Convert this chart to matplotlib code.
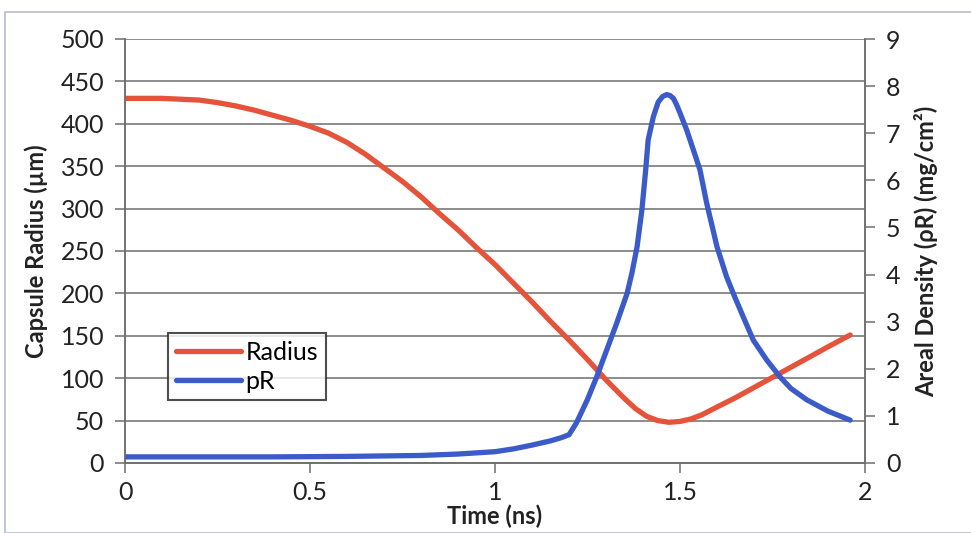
import matplotlib
matplotlib.use("Agg")
import matplotlib.pyplot as plt
from matplotlib.patches import Rectangle

plt.rcParams['font.family'] = ['Lato', 'DejaVu Sans']

# Radius curve (left axis, µm)
radius_t = [0, 0.1, 0.15, 0.2, 0.25, 0.3, 0.35, 0.4, 0.45, 0.5, 0.55, 0.6, 0.65, 0.7, 0.75,
            0.8, 0.85, 0.9, 0.95, 1.0, 1.05, 1.1, 1.15, 1.2, 1.25, 1.3, 1.35, 1.38, 1.41, 1.44,
            1.47, 1.5, 1.53, 1.56, 1.6, 1.65, 1.7, 1.75, 1.8, 1.85, 1.9, 1.96]
radius_v = [430, 430, 429, 428, 425, 421, 416, 410, 404, 397, 389, 378, 364, 348, 332,
            314, 294, 275, 254, 234, 212, 190, 167, 145, 122, 98, 76, 64, 55, 50,
            48, 49, 52, 57, 66, 77, 89, 101, 113, 125, 137, 151]

# Areal density curve (right axis, mg/cm^2)
pr_t = [0, 0.2, 0.4, 0.6, 0.8, 0.9, 1.0, 1.05, 1.1, 1.15, 1.18, 1.2, 1.22, 1.25, 1.275, 1.302,
        1.329, 1.357, 1.37, 1.384, 1.397, 1.407, 1.414, 1.428, 1.441, 1.453, 1.464, 1.473,
        1.482, 1.49, 1.5, 1.518, 1.536, 1.554, 1.572, 1.6, 1.626, 1.644, 1.671, 1.698,
        1.734, 1.77, 1.8, 1.843, 1.9, 1.96]
pr_v = [0.13, 0.13, 0.13, 0.14, 0.16, 0.19, 0.24, 0.3, 0.38, 0.47, 0.54, 0.6, 0.85, 1.35, 1.83, 2.4,
        2.97, 3.6, 4.03, 4.59, 5.37, 6.2, 6.86, 7.35, 7.66, 7.78, 7.82, 7.8,
        7.74, 7.62, 7.43, 7.07, 6.65, 6.22, 5.52, 4.59, 3.95, 3.6, 3.1, 2.61,
        2.19, 1.83, 1.58, 1.34, 1.1, 0.91]

x_ticks = [0, 0.5, 1, 1.5, 2]
x_ticklabels = ['0', '0.5', '1', '1.5', '2']
left_ticks = list(range(0, 501, 50))
right_ticks = list(range(0, 10))

RED = '#E4533A'
BLUE = '#3A5BC8'
GRID = '#6e6e6e'
TXT = '#222222'

fig = plt.figure(figsize=(9.71, 5.33), dpi=100)
fig.patches.append(Rectangle((5/971, 0), 1, 1 - 12/533, transform=fig.transFigure,
                             fill=False, edgecolor='#B8BCCB', linewidth=1.2))
ax = fig.add_axes([125/971, 1 - 463/533, 740/971, 424/533])
ax2 = ax.twinx()

l1, = ax.plot(radius_t, radius_v, color=RED, lw=3.8, solid_capstyle='round',
              solid_joinstyle='round', label='Radius')
l2, = ax2.plot(pr_t, pr_v, color=BLUE, lw=3.8, solid_capstyle='round',
               solid_joinstyle='round', label='pR')

ax.set_xlim(0, 2)
ax.set_ylim(0, 500)
ax2.set_ylim(0, 9)
ax.set_xticks(x_ticks)
ax.set_xticklabels(x_ticklabels)
ax.set_yticks(left_ticks)
ax2.set_yticks(right_ticks)

ax.grid(axis='y', color=GRID, lw=1.1)
ax.set_axisbelow(True)

for a in (ax, ax2):
    a.spines['top'].set_visible(False)
    for s in ('left', 'right', 'bottom'):
        a.spines[s].set_color(GRID)
        a.spines[s].set_linewidth(1.1)
ax.tick_params(axis='both', labelsize=18, color=GRID, length=7, width=1.1, labelcolor=TXT)
ax.tick_params(axis='y', pad=8)
ax.tick_params(axis='x', pad=6)
ax2.tick_params(axis='y', labelsize=18, color=GRID, length=7, width=1.1, pad=8, labelcolor=TXT)

ax.set_xlabel('Time (ns)', fontsize=17, fontweight='bold', labelpad=0, color=TXT)
ax.set_ylabel('Capsule Radius (µm)', fontsize=17, fontweight='bold', labelpad=9, color=TXT)
ax2.set_ylabel('Areal Density (ρR) (mg/cm²)', fontsize=17, fontweight='bold', labelpad=10, color=TXT)

leg = ax.legend([l1, l2], ['Radius', 'pR'], loc='upper left',
                bbox_to_anchor=(43/740, 130/424), fontsize=18, frameon=True,
                fancybox=False, edgecolor=TXT, handlelength=2.6, handletextpad=0.2,
                borderpad=0.3, labelspacing=0.25, borderaxespad=0)
leg.get_frame().set_linewidth(1.5)

fig.savefig('out.png', dpi=100)
